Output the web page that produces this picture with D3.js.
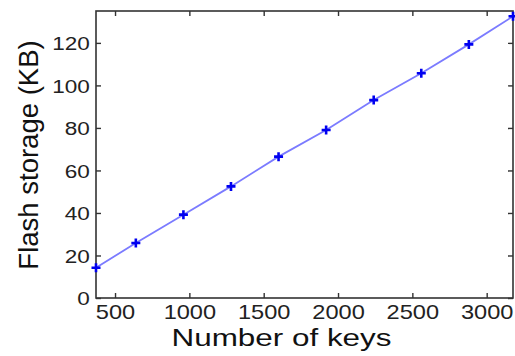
<!DOCTYPE html>
<html><head><meta charset="utf-8">
<script src="https://cdn.jsdelivr.net/npm/d3@7"></script>
<style>body{margin:0;background:#fff}svg{display:block}</style>
</head><body><svg id="c" width="515" height="356"></svg>
<script>
const keys = [372, 640, 960, 1280, 1600, 1920, 2240, 2560, 2880, 3177];
const storageKB = [14.2, 25.9, 39.2, 52.5, 66.5, 79.0, 93.1, 105.7, 119.3, 132.5];
const xTicks = [500, 1000, 1500, 2000, 2500, 3000];
const yTicks = [0, 20, 40, 60, 80, 100, 120];
const xLabel = "Number of keys";
const yLabel = "Flash storage (KB)";

const W = 515, H = 356;
const m = {l: 96, t: 11, r: 2, b: 58};
const iw = W - m.l - m.r, ih = H - m.t - m.b;
const svg = d3.select("#c");
const g = svg.append("g").attr("transform", `translate(${m.l},${m.t})`);
const x = d3.scaleLinear().domain(d3.extent(keys)).range([0, iw]);
const y = d3.scaleLinear().domain([0, 135]).range([ih, 0]);
const font = "'Liberation Sans', Arial, Helvetica, sans-serif";
const axisCol = "#333";

// box
g.append("rect").attr("width", iw).attr("height", ih).attr("fill", "none")
  .attr("stroke", axisCol).attr("stroke-width", 1.6);

// bottom axis
const gx = g.append("g").attr("transform", `translate(0,${ih})`)
  .call(d3.axisBottom(x).tickValues(xTicks).tickSizeInner(-5).tickSizeOuter(0).tickPadding(0).tickFormat(d3.format("d")));
gx.select(".domain").remove();
gx.selectAll("line").attr("stroke", axisCol).attr("stroke-width", 1.4);
gx.selectAll("text").attr("fill", "#222").style("font-family", font).style("font-size", "20px")
  .attr("y", 0).attr("dy", "1.07em")
  .attr("transform", "scale(1.18,1)").attr("x", function(d){ return 0; });
gx.selectAll(".tick").each(function(d){
  d3.select(this).select("text").attr("transform", null)
    .attr("transform", "scale(1.18,1)");
});
// top ticks
const gt = g.append("g")
  .call(d3.axisTop(x).tickValues(xTicks).tickSizeInner(-5).tickSizeOuter(0).tickFormat(""));
gt.select(".domain").remove();
gt.selectAll("line").attr("stroke", axisCol).attr("stroke-width", 1.4);

// left axis
const gy = g.append("g")
  .call(d3.axisLeft(y).tickValues(yTicks).tickSizeInner(-5).tickSizeOuter(0).tickPadding(0));
gy.select(".domain").remove();
gy.selectAll("line").attr("stroke", axisCol).attr("stroke-width", 1.4);
gy.selectAll("text").attr("fill", "#222").style("font-family", font).style("font-size", "18.5px")
  .attr("x", -5).attr("dy", "0.36em").attr("transform", "scale(1.22,1)");
// right ticks
const gr = g.append("g").attr("transform", `translate(${iw},0)`)
  .call(d3.axisRight(y).tickValues(yTicks).tickSizeInner(-5).tickSizeOuter(0).tickFormat(""));
gr.select(".domain").remove();
gr.selectAll("line").attr("stroke", axisCol).attr("stroke-width", 1.4);

// line
const pts = keys.map((k, i) => [k, storageKB[i]]);
g.append("path").datum(pts)
  .attr("d", d3.line().x(d => x(d[0])).y(d => y(d[1])))
  .attr("fill", "none").attr("stroke", "#7b7bff").attr("stroke-width", 1.8);

// markers
const s = 4.5;
g.selectAll(".mk").data(pts).join("path").attr("class", "mk")
  .attr("d", d => {
    const cx = x(d[0]), cy = y(d[1]);
    return `M${cx - s},${cy}H${cx + s}M${cx},${cy - s}V${cy + s}`;
  })
  .attr("stroke", "#0000f0").attr("stroke-width", 2.6).attr("fill", "none");

// axis labels
svg.append("text").attr("x", m.l + iw / 2 - 23).attr("y", 346)
  .attr("text-anchor", "middle").style("font-family", font).style("font-size", "23px")
  .attr("fill", "#111").attr("textLength", 220).attr("lengthAdjust", "spacingAndGlyphs")
  .text(xLabel);
svg.append("text").attr("transform", `translate(38,${155}) rotate(-90)`)
  .attr("text-anchor", "middle").style("font-family", font).style("font-size", "27.5px")
  .attr("fill", "#111").text(yLabel);
</script></body></html>
